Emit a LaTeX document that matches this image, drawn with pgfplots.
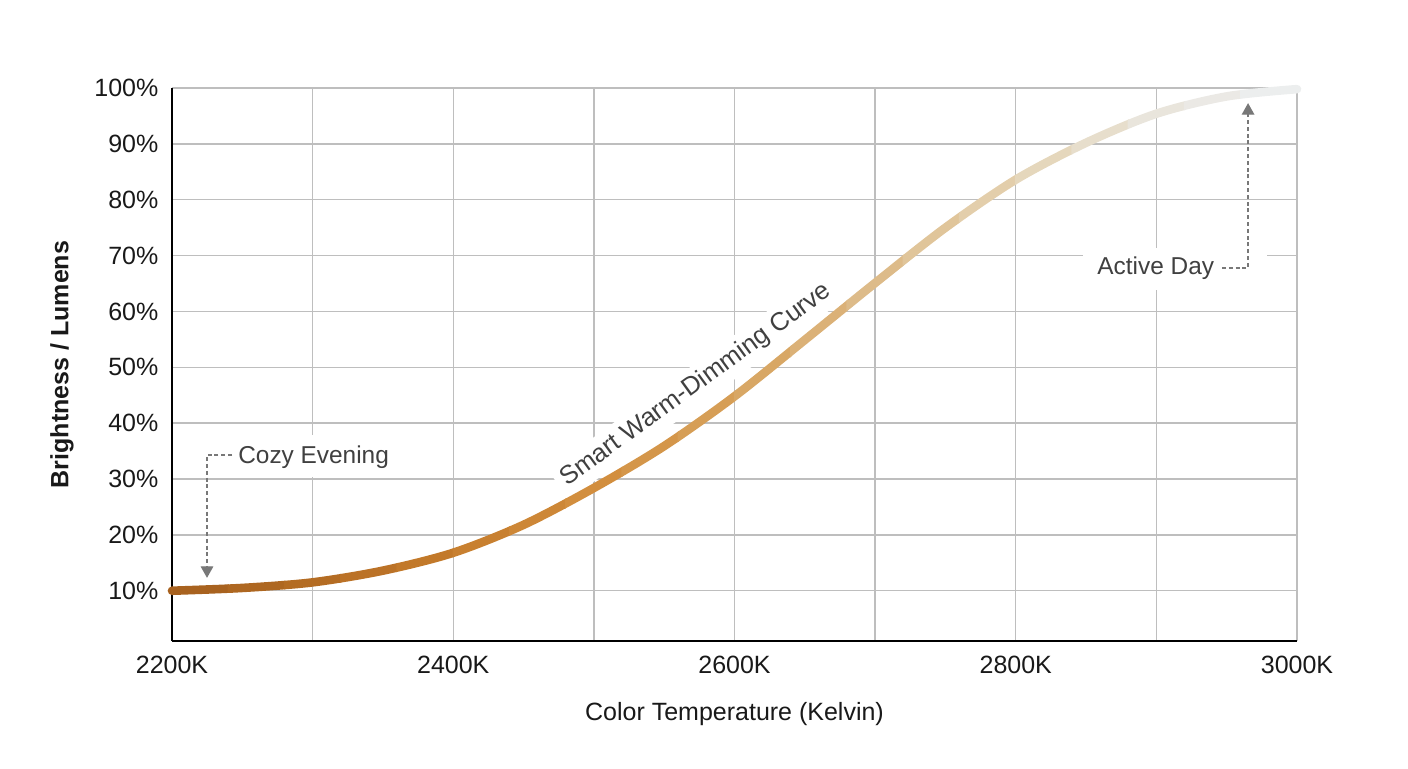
\documentclass[border=0pt]{standalone}
\usepackage{fontspec}
\setmainfont{Liberation Sans}
\usepackage{pgfplots}
\usepackage{pgfplotstable}
\pgfplotsset{compat=1.18}
\usetikzlibrary{arrows.meta}
\definecolor{gridc}{RGB}{190,190,190}
\definecolor{annc}{RGB}{120,120,120}
\definecolor{txtc}{RGB}{64,64,64}
\definecolor{tickc}{RGB}{25,25,25}
\pgfplotsset{
  colormap={warm}{rgb255=(165,95,30) rgb255=(180,108,35) rgb255=(198,124,44) rgb255=(210,142,62) rgb255=(215,162,92) rgb255=(221,187,137) rgb255=(228,211,180) rgb255=(233,229,220) rgb255=(237,240,243)},
  curvestyle/.style={smooth, line width=4.3pt, line cap=round, no marks},
}
\pgfplotstableread{
x y
2200 10.0
2250 10.5
2300 11.5
2350 13.6
2400 16.8
2450 21.8
2500 28.4
2550 35.9
2600 44.8
2650 54.9
2700 65.1
2750 75.0
2800 83.6
2850 90.2
2900 95.4
2950 98.5
3000 99.8
}\curvedata
\newcommand{\slice}[3]{%
  \begin{scope}
  \clip (axis cs:#1,-20) rectangle (axis cs:#2,130);
  \addplot[curvestyle, color of colormap={#3 of warm}] table {\curvedata};
  \end{scope}}
\begin{document}
\begin{tikzpicture}
\useasboundingbox (-86pt,-63.5pt) rectangle (618pt,320.5pt);
\begin{axis}[
  at={(0,0)}, anchor=south west,
  scale only axis, width=562.5pt, height=276.5pt,
  xmin=2200, xmax=3000, ymin=1, ymax=100,
  xtick={2200,2400,2600,2800,3000},
  minor xtick={2300,2500,2700,2900},
  ytick={10,20,...,100},
  major tick length=0pt, minor tick length=0pt,
  grid=both,
  major grid style={draw=gridc, line width=0.7pt},
  minor grid style={draw=gridc, line width=0.7pt},
  axis x line*=bottom, axis y line*=left,
  axis line style={draw=black, line width=1pt, -},
  /pgf/number format/assume math mode=true,
  xticklabel={\pgfmathprintnumber[1000 sep={}]{\tick}K},
  yticklabel={\pgfmathprintnumber{\tick}\%},
  tick label style={font=\fontsize{12.5}{15}\selectfont, text=tickc},
  xticklabel style={yshift=-4pt},
  yticklabel style={xshift=-3.3pt},
  xlabel={Color Temperature (Kelvin)},
  ylabel={Brightness / Lumens},
  xlabel style={at={(axis description cs:0.5,-0.132)}, anchor=center, font=\fontsize{12.5}{15}\selectfont, text=tickc},
  ylabel style={at={(axis description cs:-0.0978,0.5)}, anchor=center, font=\bfseries\fontsize{12.5}{15}\selectfont, text=tickc},
  clip=false,
  colormap name=warm,
]
% white backgrounds
\fill[white] (axis cs:2238.4,30.4) rectangle (axis cs:2362.2,37.9);
\fill[white] (axis cs:2847.8,63.8) rectangle (axis cs:2978.7,71.3);
\node[rotate=36, fill=white, inner sep=3pt, text=txtc, font=\fontsize{12.8}{15}\selectfont] at (axis cs:2572.6,46.8) {Smart Warm-Dimming Curve};

\slice{2180}{2240.5}{25}
\slice{2239.5}{2280.5}{75}
\slice{2279.5}{2320.5}{125}
\slice{2319.5}{2360.5}{175}
\slice{2359.5}{2400.5}{225}
\slice{2399.5}{2440.5}{275}
\slice{2439.5}{2480.5}{325}
\slice{2479.5}{2520.5}{375}
\slice{2519.5}{2560.5}{425}
\slice{2559.5}{2600.5}{475}
\slice{2599.5}{2640.5}{525}
\slice{2639.5}{2680.5}{575}
\slice{2679.5}{2720.5}{625}
\slice{2719.5}{2760.5}{675}
\slice{2759.5}{2800.5}{725}
\slice{2799.5}{2840.5}{775}
\slice{2839.5}{2880.5}{825}
\slice{2879.5}{2920.5}{875}
\slice{2919.5}{2960.5}{925}
\slice{2959.5}{3020}{975}

\node[anchor=west, inner sep=0pt, text=txtc, font=\fontsize{12.2}{14}\selectfont] at (axis cs:2246.9,33.9) {Cozy Evening};
\draw[annc, line width=0.7pt, dash pattern=on 2pt off 1.4pt, -{Triangle[width=6.3pt,length=5.8pt]}]
  (axis cs:2242.7,34.3) -- (axis cs:2224.9,34.3) -- (axis cs:2224.9,12.3);

\node[anchor=west, inner sep=0pt, text=txtc, font=\fontsize{12.2}{14}\selectfont] at (axis cs:2857.8,67.8) {Active Day};
\draw[annc, line width=0.7pt, dash pattern=on 2pt off 1.4pt, -{Triangle[width=6.3pt,length=5.8pt]}]
  (axis cs:2946.7,67.8) -- (axis cs:2965.2,67.8) -- (axis cs:2965.2,97.3);
\end{axis}
\end{tikzpicture}
\end{document}
